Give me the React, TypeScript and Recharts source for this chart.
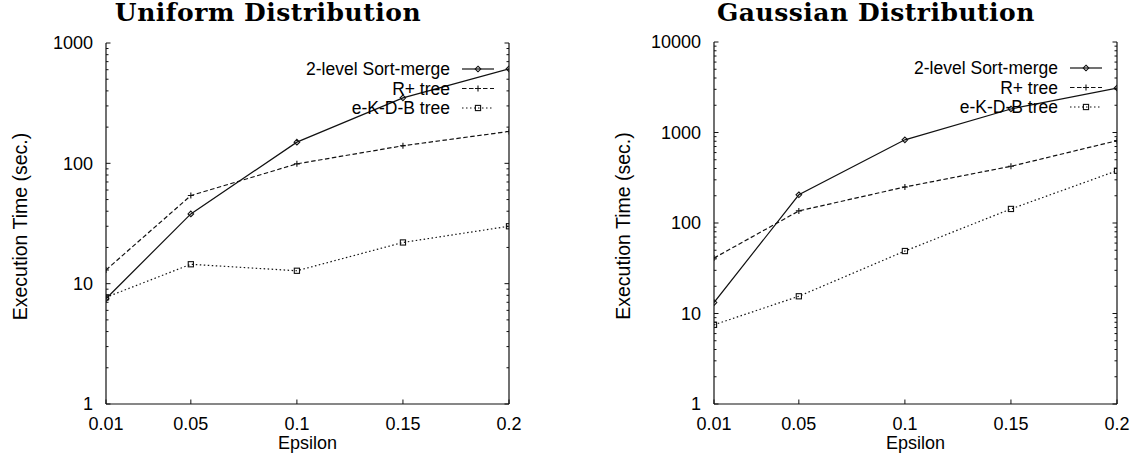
import React from "react";
import { LineChart, Line, XAxis, YAxis } from "recharts";

const epsilon = [0.01, 0.05, 0.1, 0.15, 0.2];
const xTicks = [0.01, 0.05, 0.1, 0.15, 0.2];

const uniformSortMerge = [7.5, 38, 150, 350, 610];
const uniformRPlus = [13, 54, 99, 140, 184];
const uniformKdb = [7.7, 14.5, 12.8, 22, 30];

const gaussSortMerge = [13.2, 205, 830, 1820, 3100];
const gaussRPlus = [41, 136, 250, 423, 812];
const gaussKdb = [7.5, 15.5, 49, 143, 378];

const uniformMajors = [1, 10, 100, 1000];
const gaussMajors = [1, 10, 100, 1000, 10000];
const minorSteps = [2, 3, 4, 5, 6, 7, 8, 9];

const FONT = "'Liberation Sans', Arial, Helvetica, sans-serif";
const FS = 17.5;
const INK = "#111";

const seriesDefs = [
  { key: "sm", name: "2-level Sort-merge", dash: undefined, marker: "diamond" },
  { key: "rp", name: "R+ tree", dash: "4.5 2.5", marker: "plus" },
  { key: "kdb", name: "e-K-D-B tree", dash: "1.5 2.5", marker: "square" },
];

function withMinors(majors: number[]) {
  const out: number[] = [];
  majors.forEach((m, i) => {
    out.push(m);
    if (i < majors.length - 1) minorSteps.forEach((s) => out.push(m * s));
  });
  return out;
}

function Marker({ kind, cx, cy }: { kind: string; cx: number; cy: number }) {
  if (kind === "diamond") {
    const r = 2.8;
    return (
      <path
        d={`M${cx},${cy - r}L${cx + r},${cy}L${cx},${cy + r}L${cx - r},${cy}Z`}
        fill="none"
        stroke={INK}
        strokeWidth={1.1}
      />
    );
  }
  if (kind === "plus") {
    const r = 3;
    return (
      <path d={`M${cx - r},${cy}H${cx + r}M${cx},${cy - r}V${cy + r}`} stroke={INK} strokeWidth={1.1} />
    );
  }
  const r = 2.6;
  return <rect x={cx - r} y={cy - r} width={2 * r} height={2 * r} fill="none" stroke={INK} strokeWidth={1.1} />;
}

const TICK = 4.5;
const MINOR = 2.5;
const LABEL_GAP = 13;

function makeLeftTick(majors: number[]) {
  return (props: any) => {
    const { x, y, payload } = props;
    const v = payload.value;
    const major = majors.includes(v);
    const ax = x + LABEL_GAP;
    return (
      <g>
        <line x1={ax} x2={ax + (major ? TICK : MINOR)} y1={y} y2={y} stroke={INK} />
        {major && (
          <text x={x} y={y} dy="0.36em" textAnchor="end" fontFamily={FONT} fontSize={18} fill="#000">
            {v}
          </text>
        )}
      </g>
    );
  };
}

function makeRightTick(majors: number[]) {
  return (props: any) => {
    const { x, y, payload } = props;
    const major = majors.includes(payload.value);
    return <line x1={x} x2={x - (major ? TICK : MINOR)} y1={y} y2={y} stroke={INK} />;
  };
}

const BottomTick = (props: any) => {
  const { x, y, payload } = props;
  return (
    <g>
      <line x1={x} x2={x} y1={y} y2={y - TICK} stroke={INK} />
      <text x={x} y={y + 26} textAnchor="middle" fontFamily={FONT} fontSize={18} fill="#000">
        {payload.value}
      </text>
    </g>
  );
};

const TopTick = (props: any) => {
  const { x, y } = props;
  return <line x1={x} x2={x} y1={y} y2={y + TICK} stroke={INK} />;
};

interface PanelProps {
  title: string;
  left: number;
  width: number;
  top: number;
  yLeftW: number;
  yRightW: number;
  labelX: number;
  titleCenter: number;
  majors: number[];
  sm: number[];
  rp: number[];
  kdb: number[];
}

function Panel(p: PanelProps) {
  const H = 459;
  const bottomH = 55;
  const data = epsilon.map((e, i) => ({ eps: e, sm: p.sm[i], rp: p.rp[i], kdb: p.kdb[i] }));
  const ticks = withMinors(p.majors);
  const domain = [p.majors[0], p.majors[p.majors.length - 1]];
  const plotRight = p.width - p.yRightW;
  const plotBottom = H - bottomH;

  const yLabel = () => {
    const cx = p.labelX;
    const cy = p.top + (plotBottom - p.top) / 2 + 3;
    return (
      <text
        x={cx}
        y={cy}
        transform={`rotate(-90, ${cx}, ${cy})`}
        textAnchor="middle"
        fontFamily={FONT}
        fontSize={19.5}
        fill="#000"
      >
        Execution Time (sec.)
      </text>
    );
  };

  return (
    <div style={{ position: "absolute", left: p.left, top: 0, width: p.width, height: H }}>
      <div
        style={{
          position: "absolute",
          left: p.titleCenter - 250,
          width: 500,
          top: -2,
          textAlign: "center",
          fontFamily: "'DejaVu Serif', serif",
          fontWeight: "bold",
          fontSize: 25,
          letterSpacing: 0.5,
          lineHeight: "29px",
          color: "#000",
        }}
      >
        {p.title}
      </div>
      <LineChart
        width={p.width}
        height={H}
        data={data}
        margin={{ top: p.top, right: 0, bottom: 0, left: 0 }}
        style={{ position: "absolute", left: 0, top: 0 }}
      >
        <XAxis
          dataKey="eps"
          type="number"
          domain={[0.01, 0.2]}
          ticks={xTicks}
          interval={0}
          allowDataOverflow
          height={bottomH}
          tickLine={false}
          tickSize={0}
          tickMargin={0}
          axisLine={{ stroke: INK, strokeWidth: 1.2 }}
          tick={BottomTick}
          label={{ value: "Epsilon", position: "insideBottom", offset: 10, fontFamily: FONT, fontSize: 18, fill: "#000" }}
        />
        <XAxis
          xAxisId="top"
          orientation="top"
          dataKey="eps"
          type="number"
          domain={[0.01, 0.2]}
          ticks={xTicks}
          interval={0}
          allowDataOverflow
          height={0}
          tickLine={false}
          tickSize={0}
          tickMargin={0}
          axisLine={{ stroke: INK, strokeWidth: 1.2 }}
          tick={TopTick}
        />
        <YAxis
          scale="log"
          type="number"
          domain={domain}
          allowDataOverflow
          ticks={ticks}
          interval={0}
          width={p.yLeftW}
          tickLine={false}
          tickSize={0}
          tickMargin={LABEL_GAP}
          axisLine={{ stroke: INK, strokeWidth: 1.2 }}
          tick={makeLeftTick(p.majors)}
          label={yLabel}
        />
        <YAxis
          yAxisId="right"
          orientation="right"
          scale="log"
          type="number"
          domain={domain}
          allowDataOverflow
          ticks={ticks}
          interval={0}
          width={p.yRightW}
          tickLine={false}
          tickSize={0}
          tickMargin={0}
          axisLine={{ stroke: INK, strokeWidth: 1.2 }}
          tick={makeRightTick(p.majors)}
        />
        {seriesDefs.map((s) => (
          <Line
            key={s.key}
            dataKey={s.key}
            name={s.name}
            type="linear"
            stroke={INK}
            strokeWidth={1.2}
            strokeDasharray={s.dash}
            isAnimationActive={false}
            activeDot={false}
            dot={(d: any) => <Marker key={`${s.key}-${d.index}`} kind={s.marker} cx={d.cx} cy={d.cy} />}
          />
        ))}
      </LineChart>
      <svg
        width={p.width}
        height={H}
        style={{ position: "absolute", left: 0, top: 0, pointerEvents: "none" }}
      >
        {seriesDefs.map((s, i) => {
          const cy = p.top + 26 + i * 19.5;
          return (
            <g key={s.key}>
              <text x={plotRight - 59} y={cy} dy="0.36em" textAnchor="end" fontFamily={FONT} fontSize={FS} fill="#000">
                {s.name}
              </text>
              <line
                x1={plotRight - 47}
                x2={plotRight - 15}
                y1={cy}
                y2={cy}
                stroke={INK}
                strokeWidth={1.2}
                strokeDasharray={s.dash}
              />
              <Marker kind={s.marker} cx={plotRight - 31} cy={cy} />
            </g>
          );
        })}
      </svg>
    </div>
  );
}

export default function App() {
  return (
    <div style={{ position: "absolute", left: 0, top: 0, width: 1137, height: 459, background: "#fff" }}>
      <Panel
        title="Uniform Distribution"
        left={0}
        width={560}
        top={43}
        yLeftW={106}
        yRightW={51}
        labelX={27}
        titleCenter={268}
        majors={uniformMajors}
        sm={uniformSortMerge}
        rp={uniformRPlus}
        kdb={uniformKdb}
      />
      <Panel
        title="Gaussian Distribution"
        left={560}
        width={577}
        top={42}
        yLeftW={154}
        yRightW={20}
        labelX={70}
        titleCenter={316}
        majors={gaussMajors}
        sm={gaussSortMerge}
        rp={gaussRPlus}
        kdb={gaussKdb}
      />
    </div>
  );
}
